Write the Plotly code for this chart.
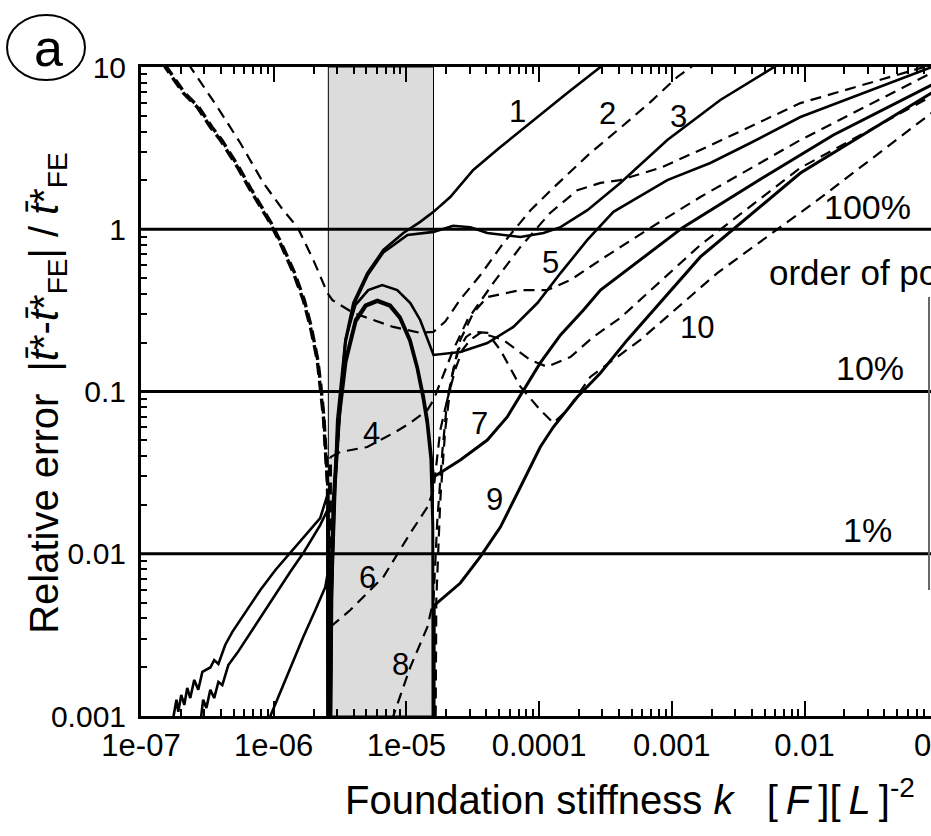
import plotly.graph_objects as go

# ---------------- data ----------------
# solid curves (odd polynomial orders)
k1 = [1.72e-7, 1.85e-7, 1.91e-7, 2.01e-7, 2.12e-7, 2.23e-7, 2.35e-7, 2.52e-7, 2.70e-7, 2.90e-7,
      3.33e-7, 3.56e-7, 3.83e-7, 4.31e-7, 4.88e-7, 6.11e-7, 7.93e-7, 1.03e-6, 1.33e-6, 1.89e-6,
      2.24e-6, 2.54e-6, 2.58e-6, 2.72e-6, 2.91e-6, 3.18e-6, 3.47e-6, 3.98e-6, 5.07e-6, 6.70e-6,
      9.48e-6, 1.27e-5, 1.60e-5, 2.14e-5, 3.19e-5, 5.11e-5, 9.06e-5, 1.63e-4, 2.90e-4, 4.09e-4]
e1 = [9e-4, 1.26e-3, 1.06e-3, 1.35e-3, 1.17e-3, 1.49e-3, 1.29e-3, 1.67e-3, 1.45e-3, 1.87e-3,
      1.99e-3, 2.21e-3, 2.09e-3, 2.74e-3, 3.30e-3, 4.38e-3, 5.98e-3, 7.94e-3, 0.0101, 0.0140,
      0.0166, 0.0230, 1e-5, 0.0052, 0.0285, 0.0887, 0.208, 0.351, 0.537, 0.745,
      0.949, 1.11, 1.28, 1.58, 2.32, 3.21, 4.71, 6.92, 10.0, 11.9]

k3 = [2.80e-7, 2.94e-7, 3.11e-7, 3.33e-7, 3.56e-7, 3.83e-7, 4.10e-7, 4.55e-7, 5.32e-7, 7.26e-7,
      9.42e-7, 1.33e-6, 1.67e-6, 2.24e-6, 2.54e-6, 2.585e-6, 2.73e-6, 2.92e-6, 3.19e-6, 3.48e-6,
      4.0e-6, 5.1e-6, 6.70e-6, 1.02e-5, 1.60e-5, 2.25e-5, 3.03e-5, 4.07e-5, 7.23e-5, 1.08e-4,
      1.45e-4, 2.31e-4, 4.09e-4, 9.25e-4, 2.32e-3, 6.25e-3, 8.5e-3]
e3 = [9e-4, 1.26e-3, 1.12e-3, 1.45e-3, 1.29e-3, 1.62e-3, 1.55e-3, 2.06e-3, 2.45e-3, 3.64e-3,
      5.04e-3, 7.72e-3, 0.0101, 0.0150, 0.0186, 1e-5, 0.0050, 0.027, 0.085, 0.20,
      0.34, 0.52, 0.72, 0.923, 0.963, 1.05, 1.03, 0.949, 0.896, 0.949,
      1.03, 1.31, 1.93, 3.55, 6.26, 10.3, 12.5]

k5 = [8.95e-7, 1.22e-6, 1.67e-6, 2.06e-6, 2.45e-6, 2.54e-6, 2.58e-6, 2.77e-6, 3.01e-6, 3.47e-6,
      4.12e-6, 5.16e-6, 6.57e-6, 8.53e-6, 1.07e-5, 1.27e-5, 1.44e-5, 1.60e-5, 2.55e-5, 4.07e-5,
      6.40e-5, 9.71e-5, 1.45e-4, 2.31e-4, 3.63e-4, 5.13e-4, 9.25e-4, 1.95e-3, 3.91e-3, 9.31e-3,
      9.04e-2, 0.11]
e5 = [9e-4, 1.67e-3, 3.07e-3, 4.50e-3, 6.24e-3, 7.40e-3, 1e-5, 0.0105, 0.0667, 0.208,
      0.341, 0.422, 0.453, 0.422, 0.351, 0.276, 0.208, 0.168, 0.175, 0.199,
      0.250, 0.351, 0.537, 0.859, 1.28, 1.51, 2.01, 2.56, 3.40, 4.92,
      9.86, 10.6]

k7 = [2.50e-6, 2.58e-6, 2.67e-6, 2.81e-6, 3.07e-6, 3.47e-6, 4.12e-6, 4.90e-6, 6.04e-6, 7.57e-6,
      8.99e-6, 1.07e-5, 1.21e-5, 1.34e-5, 1.44e-5, 1.54e-5, 1.60e-5, 2.55e-5, 4.07e-5, 5.75e-5,
      7.62e-5, 1.02e-4, 1.45e-4, 2.16e-4, 2.90e-4, 4.09e-4, 1.22e-3, 5.25e-3, 1.65e-2, 9.04e-2, 0.11]
e7 = [1e-5, 1e-5, 0.0052, 0.0214, 0.0667, 0.156, 0.276, 0.341, 0.366, 0.341,
      0.288, 0.208, 0.142, 0.0951, 0.0667, 0.0406, 0.0297, 0.0378, 0.0502, 0.0697,
      0.102, 0.150, 0.223, 0.318, 0.422, 0.522, 1.03, 2.16, 3.81, 7.74, 8.4]

k9 = [2.50e-6, 2.58e-6, 2.70e-6, 2.84e-6, 3.10e-6, 3.51e-6, 4.17e-6, 4.96e-6, 6.04e-6, 7.46e-6,
      8.90e-6, 1.06e-5, 1.20e-5, 1.33e-5, 1.43e-5, 1.53e-5, 1.58e-5, 1.60e-5, 1.62e-5, 2.55e-5,
      3.61e-5, 5.11e-5, 7.23e-5, 1.02e-4, 1.28e-4, 1.94e-4, 2.90e-4, 4.62e-4, 1.64e-3, 9.31e-3,
      9.04e-2, 0.11]
e9 = [1e-5, 1e-5, 0.0050, 0.0210, 0.066, 0.153, 0.270, 0.336, 0.358, 0.336,
      0.283, 0.204, 0.140, 0.092, 0.064, 0.038, 0.015, 1e-5, 0.0048, 0.0066,
      0.0096, 0.0146, 0.0258, 0.0455, 0.0604, 0.0925, 0.130, 0.208, 0.675, 2.22,
      6.92, 7.6]

# dashed curves (even polynomial orders)
k2 = [1.9e-7, 2.35e-7, 3.76e-7, 5.60e-7, 8.36e-7, 1.18e-6, 1.51e-6, 1.99e-6, 2.54e-6, 2.77e-6,
      3.98e-6, 7.96e-6, 1.27e-5, 1.60e-5, 1.96e-5, 2.55e-5, 3.61e-5, 5.38e-5, 8.61e-5, 1.28e-4,
      2.43e-4, 4.09e-4, 6.89e-4, 1.10e-3, 1.38e-3, 1.64e-3]
e2 = [13.0, 10.0, 5.67, 3.40, 1.93, 1.31, 1.03, 0.646, 0.405, 0.366,
      0.305, 0.250, 0.230, 0.233, 0.27, 0.37, 0.522, 0.822, 1.31, 1.80,
      2.95, 4.21, 6.08, 8.68, 10.0, 11.0]

k4 = [1.3e-7, 1.52e-7, 2.08e-7, 2.65e-7, 3.33e-7, 3.96e-7, 5.32e-7, 6.67e-7, 9.42e-7, 1.12e-6,
      1.41e-6, 1.67e-6, 1.89e-6, 2.13e-6, 2.24e-6, 2.37e-6, 2.45e-6, 2.54e-6, 2.58e-6, 2.60e-6,
      2.67e-6, 3.18e-6, 5.07e-6, 8.24e-6, 1.07e-5, 1.44e-5, 1.60e-5, 1.71e-5, 1.96e-5, 2.25e-5,
      2.88e-5, 4.52e-5, 7.23e-5, 1.21e-4, 1.94e-4, 2.90e-4, 4.09e-4, 8.18e-4, 1.64e-3, 9.31e-3,
      9.04e-2, 0.11]
e4 = [13.5, 10.0, 6.92, 5.67, 4.27, 3.55, 2.42, 1.74, 1.09, 0.822,
      0.537, 0.366, 0.250, 0.156, 0.107, 0.0697, 0.0436, 0.0273, 0.0105, 1e-5,
      0.0394, 0.0424, 0.0455, 0.0562, 0.0640, 0.0769, 0.0887, 0.102, 0.136, 0.180,
      0.276, 0.467, 0.778, 1.26, 1.74, 1.93, 2.01, 2.39, 3.08, 5.99,
      10.3, 11.0]

k6 = [1.35e-7, 1.56e-7, 2.13e-7, 2.72e-7, 3.42e-7, 4.06e-7, 5.45e-7, 6.83e-7, 9.58e-7, 1.14e-6,
      1.44e-6, 1.70e-6, 1.92e-6, 2.15e-6, 2.27e-6, 2.39e-6, 2.47e-6, 2.55e-6, 2.59e-6, 2.61e-6,
      2.67e-6, 3.78e-6, 6.70e-6, 1.07e-5, 1.44e-5, 1.60e-5, 1.80e-5, 2.03e-5, 2.25e-5, 2.55e-5,
      3.19e-5, 4.07e-5, 7.23e-5, 1.15e-4, 1.72e-4, 3.05e-4, 6.89e-4, 1.64e-3, 9.31e-3, 9.04e-2, 0.11]
e6 = [13.0, 10.0, 6.92, 5.67, 4.27, 3.55, 2.42, 1.74, 1.09, 0.822,
      0.537, 0.366, 0.250, 0.156, 0.107, 0.0697, 0.0436, 0.0273, 0.0105, 1e-5,
      3.54e-3, 4.50e-3, 7.19e-3, 0.0134, 0.0194, 0.0247, 0.0579, 0.0887, 0.136, 0.208,
      0.305, 0.382, 0.422, 0.422, 0.486, 0.665, 1.02, 1.58, 3.55, 9.19, 10.2]

k8 = [6.0e-6, 6.93e-6, 7.96e-6, 1.07e-5, 1.44e-5, 1.60e-5, 1.71e-5, 1.87e-5, 2.03e-5, 2.33e-5,
      2.64e-5, 3.03e-5, 3.61e-5, 5.38e-5, 8.61e-5, 1.15e-4, 1.72e-4, 2.56e-4, 4.09e-4, 1.64e-3,
      9.31e-3, 9.04e-2, 0.11]
e8 = [4.5e-4, 7.1e-4, 1e-3, 2.00e-3, 3.54e-3, 5.19e-3, 0.0161, 0.0436, 0.0887, 0.136,
      0.180, 0.208, 0.230, 0.208, 0.156, 0.142, 0.163, 0.217, 0.284, 0.800,
      2.39, 6.53, 7.2]

k10 = [1.61e-5, 1.68e-5, 1.80e-5, 1.96e-5, 2.18e-5, 2.46e-5, 2.82e-5, 3.19e-5, 4.07e-5, 5.11e-5,
       7.23e-5, 1.02e-4, 1.28e-4, 1.63e-4, 2.43e-4, 4.09e-4, 5.79e-4, 2.20e-3, 1.25e-2, 9.04e-2, 0.11]
e10 = [1e-5, 5.19e-3, 0.0214, 0.0579, 0.118, 0.180, 0.217, 0.233, 0.230, 0.180,
       0.107, 0.0769, 0.0640, 0.0769, 0.123, 0.168, 0.208, 0.537, 1.51, 5.20, 5.8]

band_k = [2.58e-6, 1.60e-5]                 # shaded stiffness interval
ref_levels = [1.0, 0.1, 0.01]
ref_labels = ["100%", "10%", "1%"]
curve_labels = ["1", "2", "3", "4", "5", "6", "7", "8", "9", "10"]
xtick_vals = [1e-7, 1e-6, 1e-5, 1e-4, 1e-3, 1e-2]
xtick_text = ["1e-07", "1e-06", "1e-05", "0.0001", "0.001", "0.01"]
ytick_vals = [1e-3, 1e-2, 1e-1, 1, 10]
ytick_text = ["0.001", "0.01", "0.1", "1", "10"]

# ---------------- figure ----------------
FONT = "Liberation Sans, Arial, Helvetica, sans-serif"
fig = go.Figure()

series = [(k1, e1), (k2, e2), (k3, e3), (k4, e4), (k5, e5),
          (k6, e6), (k7, e7), (k8, e8), (k9, e9), (k10, e10)]
DASH = "11px,7px"
for i, (kk, ee) in enumerate(series):
    odd = (i % 2 == 0)
    if odd:
        w = 3.0 if curve_labels[i] in ("7", "9") else 2.6
        fig.add_trace(go.Scatter(x=kk, y=ee, mode="lines", name=curve_labels[i],
                                 line=dict(color="black", width=w), hoverinfo="skip"))
    elif curve_labels[i] in ("4", "6"):
        # the left (small-k) branches of these two overlap and read as one heavy dashed line
        n = sum(1 for v in kk if v <= band_k[0] * 1.01) + 1
        fig.add_trace(go.Scatter(x=kk[:n], y=ee[:n], mode="lines", name=curve_labels[i],
                                 line=dict(color="black", width=3.4, dash="12px,6px"),
                                 hoverinfo="skip"))
        fig.add_trace(go.Scatter(x=kk[n - 1:], y=ee[n - 1:], mode="lines", name=curve_labels[i],
                                 line=dict(color="black", width=2.2, dash=DASH),
                                 hoverinfo="skip"))
    else:
        fig.add_trace(go.Scatter(x=kk, y=ee, mode="lines", name=curve_labels[i],
                                 line=dict(color="black", width=2.2, dash=DASH),
                                 hoverinfo="skip"))

shapes = []
shapes.append(dict(type="rect", xref="x", yref="paper", x0=band_k[0], x1=band_k[1], y0=0, y1=1,
                   fillcolor="#dcdcdc", line=dict(color="black", width=1), layer="below"))
for lv in ref_levels:
    shapes.append(dict(type="line", xref="paper", yref="y", x0=0, x1=1, y0=lv, y1=lv,
                       line=dict(color="black", width=3)))
shapes.append(dict(type="line", xref="paper", yref="paper", x0=0.9975, x1=0.9975,
                   y0=0.194, y1=0.6456, line=dict(color="#666666", width=2)))
shapes.append(dict(type="circle", xref="paper", yref="paper", x0=-0.1696, x1=-0.0709,
                   y0=0.98, y1=1.080, line=dict(color="black", width=2)))


def note(text, x, y, size=32, xa="center", ya="middle", **kw):
    return dict(text=text, x=x, y=y, xref="paper", yref="paper", showarrow=False,
                xanchor=xa, yanchor=ya, font=dict(size=size, family=FONT, color="black"), **kw)


ann = []
label_pos = [(0.476, 0.931), (0.591, 0.929), (0.680, 0.923), (0.292, 0.436), (0.518, 0.698),
             (0.287, 0.214), (0.429, 0.451), (0.328, 0.0786), (0.448, 0.333), (0.704, 0.599)]
for t, (xp, yp) in zip(curve_labels, label_pos):
    ann.append(note(t, xp, yp, size=31))
ref_pos = [(0.920, 0.784), (0.923, 0.536), (0.919, 0.287)]
for t, (xp, yp) in zip(ref_labels, ref_pos):
    ann.append(note(t, xp, yp, size=34))
ann.append(note("order of polynomial", 0.7924, 0.683, size=35, xa="left"))
ann.append(note("a", -0.1177, 1.029, size=52))
ann.append(note("0.1", 1.0063, -0.0462, size=31))
ann.append(note("Foundation stiffness <i>k</i>\u00a0\u00a0\u00a0[\u2009<i>F</i>\u2009][\u2009<i>L</i>\u2009]<sup>-2</sup>",
                0.2557, -0.1248, size=40, xa="left"))
ann.append(note("Relative error\u00a0\u00a0|<i>t\u0304</i>*-<i>t\u0304</i>*<sub>FE</sub>| / <i>t\u0304</i>*<sub>FE</sub>",
                -0.1190, 0.498, size=40, textangle=-90))

minor_x = [m * 10.0 ** e for e in range(-7, 0) for m in range(2, 10)]
minor_y = [m * 10.0 ** e for e in range(-3, 1) for m in range(2, 10)]

fig.update_layout(
    width=931, height=836,
    margin=dict(l=141, r=0, t=67, b=120, pad=0),
    paper_bgcolor="white", plot_bgcolor="white",
    showlegend=False,
    font=dict(family=FONT, size=31, color="black"),
    shapes=shapes, annotations=ann,
)
fig.update_xaxes(type="log", range=[-7, -1.047], showgrid=False, zeroline=False,
                 showline=True, linewidth=3, linecolor="black", mirror="ticks",
                 ticks="inside", ticklen=15, tickwidth=2, tickcolor="black",
                 tickmode="array", tickvals=xtick_vals, ticktext=xtick_text,
                 tickfont=dict(size=31, family=FONT, color="black"),
                 minor=dict(ticks="inside", ticklen=7, tickwidth=2, tickcolor="black",
                            tickmode="array", tickvals=minor_x, showgrid=False))
fig.update_yaxes(type="log", range=[-3, 1], showgrid=False, zeroline=False,
                 showline=True, linewidth=3, linecolor="black", mirror=False,
                 ticks="inside", ticklen=6, tickwidth=2, tickcolor="black",
                 tickmode="array", tickvals=ytick_vals, ticktext=ytick_text,
                 tickfont=dict(size=30, family=FONT, color="black"), ticklabelstandoff=6,
                 minor=dict(ticks="inside", ticklen=6, tickwidth=2, tickcolor="black",
                            tickmode="array", tickvals=minor_y, showgrid=False))

fig.write_html("out.html", config={"displayModeBar": False})
